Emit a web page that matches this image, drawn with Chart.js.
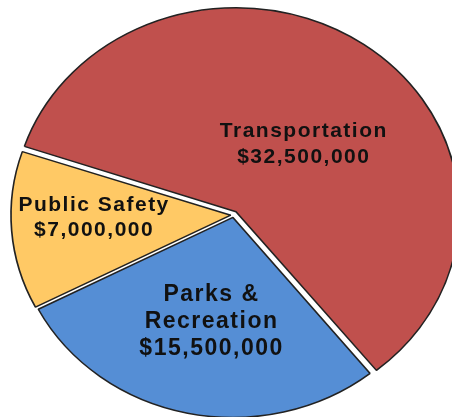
<!DOCTYPE html>
<html>
<head>
<meta charset="utf-8">
<script src="https://cdn.jsdelivr.net/npm/chart.js@4.4.1/dist/chart.umd.min.js"></script>
<style>
  html, body { margin: 0; padding: 0; background: #ffffff; }
  #wrap { width: 452px; height: 417px; }
</style>
</head>
<body>
<div id="wrap"><canvas id="budgetPie" width="452" height="417"></canvas></div>
<script>
// budget split
const categories = ['Transportation', 'Parks & Recreation', 'Public Safety'];
const amounts = [32500000, 15500000, 7000000];
const labelLines = [
  ['Transportation'],
  ['Parks &', 'Recreation'],
  ['Public Safety']
];

const sliceColors = ['#c0504d', '#558ed5', '#ffc965'];

// where each label sits: angle shift (deg) from slice middle, fraction of radius
const labelPlacement = [
  { shift: 7, r: 0.476, size: 21, lineH: 26 },
  { shift: -1, r: 0.545, size: 23, lineH: 27 },
  { shift: 3.3, r: 0.64, size: 21, lineH: 25 }
];

const STRETCH_X = 1.095; // pie is drawn a bit wider than tall

function formatDollars(v) {
  return '$' + v.toLocaleString('en-US');
}

/* stretch the pie horizontally */
const ellipsePlugin = {
  id: 'ellipse',
  beforeDatasetsDraw(chart) {
    const arc = chart.getDatasetMeta(0).data[0];
    const { x, y } = arc.getProps(['x', 'y'], true);
    const ctx = chart.ctx;
    ctx.save();
    ctx.translate(x, y);
    ctx.scale(STRETCH_X, 1);
    ctx.translate(-x, -y);
  },
  afterDatasetsDraw(chart) {
    chart.ctx.restore();
  }
};

/* slice labels: name + amount */
const sliceLabels = {
  id: 'sliceLabels',
  afterDraw(chart) {
    const ctx = chart.ctx;
    const meta = chart.getDatasetMeta(0);
    meta.data.forEach((arc, i) => {
      const { x, y, startAngle, endAngle, outerRadius } =
        arc.getProps(['x', 'y', 'startAngle', 'endAngle', 'outerRadius'], true);
      const p = labelPlacement[i];
      const mid = (startAngle + endAngle) / 2 + p.shift * Math.PI / 180;
      const px = x + Math.cos(mid) * outerRadius * p.r * STRETCH_X;
      const py = y + Math.sin(mid) * outerRadius * p.r;

      const lines = labelLines[i].concat([formatDollars(amounts[i])]);
      ctx.save();
      ctx.font = 'bold ' + p.size + 'px "Liberation Sans", Arial, sans-serif';
      ctx.letterSpacing = '1.5px';
      ctx.fillStyle = '#111111';
      ctx.textAlign = 'center';
      ctx.textBaseline = 'middle';
      const top = py - (lines.length - 1) * p.lineH / 2;
      lines.forEach((line, k) => {
        ctx.fillText(line, px + 0.75, top + k * p.lineH);
      });
      ctx.restore();
    });
  }
};

new Chart(document.getElementById('budgetPie'), {
  type: 'pie',
  data: {
    labels: categories,
    datasets: [{
      data: amounts,
      backgroundColor: sliceColors,
      borderColor: '#222222',
      borderWidth: 1.5,
      offset: [16, 10, 10],
      hoverOffset: 0
    }]
  },
  options: {
    responsive: false,
    animation: false,
    rotation: 288.5,
    radius: 200,
    layout: { padding: { left: 15, right: 0, top: 13, bottom: 0 } },
    plugins: {
      legend: { display: false },
      tooltip: { enabled: false }
    },
    events: []
  },
  plugins: [ellipsePlugin, sliceLabels]
});
</script>
</body>
</html>
